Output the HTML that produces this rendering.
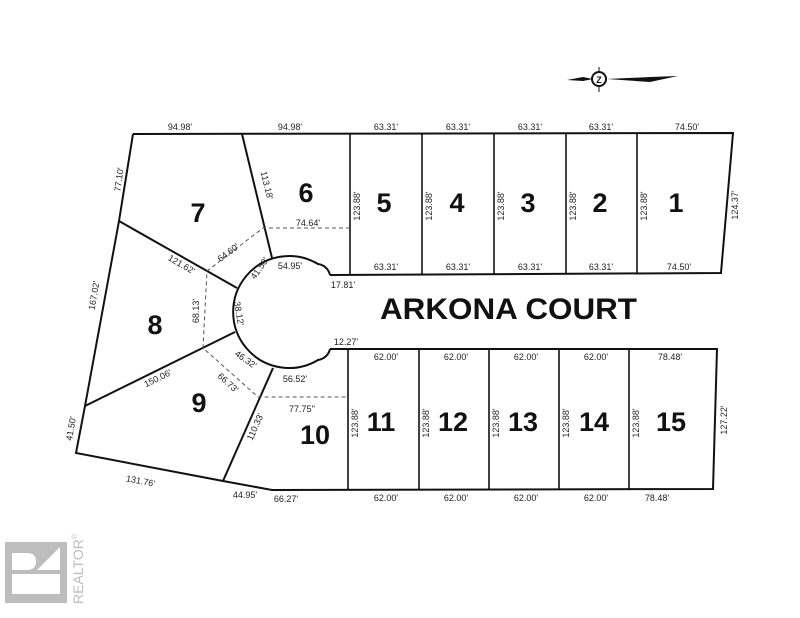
<!DOCTYPE html>
<html><head><style>
html,body{margin:0;padding:0;background:#fff}
svg{display:block}
text{font-family:"Liberation Sans",Arial,sans-serif}
.d{font-size:9px;fill:#222}
.n{font-size:27px;font-weight:bold;fill:#111}
</style></head><body>
<svg width="800" height="618" viewBox="0 0 800 618" xmlns="http://www.w3.org/2000/svg">
<g fill="none" stroke="#111" stroke-width="2">
<path d="M133,134 L733,133 L721,273 L330,275"/>
<path d="M133,134 L119,221 L85,406 L76,453 L223,481 L272,490 L713,489 L717,349 L330,349"/>
<path d="M330,275 A14,14 0 0 0 318,264 A56,56 0 1 0 318,360 A14,14 0 0 0 330,349"/>
<line x1="242" y1="134" x2="272" y2="258"/>
<line x1="119" y1="221" x2="237" y2="288"/>
<line x1="85" y1="406" x2="235" y2="332"/>
<line x1="223" y1="481" x2="273" y2="368"/>
<g stroke-width="1.6">
<line x1="350" y1="134" x2="350" y2="275"/>
<line x1="422" y1="134" x2="422" y2="275"/>
<line x1="494" y1="134" x2="494" y2="274"/>
<line x1="566" y1="133" x2="566" y2="274"/>
<line x1="637" y1="133" x2="637" y2="274"/>
<line x1="348" y1="349" x2="348" y2="490"/>
<line x1="419" y1="349" x2="419" y2="490"/>
<line x1="489" y1="349" x2="489" y2="490"/>
<line x1="559" y1="349" x2="559" y2="490"/>
<line x1="629" y1="349" x2="629" y2="490"/>
</g>
</g>
<g fill="none" stroke="#555" stroke-width="1" stroke-dasharray="4,3">
<path d="M350,228 L263,228 L207,271 L203,348 L258,397 L348,397"/>
</g>
<text class="n" x="198" y="222" text-anchor="middle">7</text>
<text class="n" x="306" y="202" text-anchor="middle">6</text>
<text class="n" x="384" y="212" text-anchor="middle">5</text>
<text class="n" x="457" y="212" text-anchor="middle">4</text>
<text class="n" x="528" y="212" text-anchor="middle">3</text>
<text class="n" x="600" y="212" text-anchor="middle">2</text>
<text class="n" x="676" y="212" text-anchor="middle">1</text>
<text class="n" x="155" y="334" text-anchor="middle">8</text>
<text class="n" x="199" y="412" text-anchor="middle">9</text>
<text class="n" x="315" y="444" text-anchor="middle">10</text>
<text class="n" x="381" y="431" text-anchor="middle">11</text>
<text class="n" x="453" y="431" text-anchor="middle">12</text>
<text class="n" x="523" y="431" text-anchor="middle">13</text>
<text class="n" x="594" y="431" text-anchor="middle">14</text>
<text class="n" x="671" y="431" text-anchor="middle">15</text>
<text x="380" y="319" font-size="30" font-weight="bold" fill="#111" textLength="257" lengthAdjust="spacingAndGlyphs">ARKONA COURT</text>
<g class="d" text-anchor="middle">
<text x="180" y="130">94.98'</text><text x="290" y="130">94.98'</text>
<text x="386" y="130">63.31'</text><text x="458" y="130">63.31'</text><text x="530" y="130">63.31'</text><text x="601" y="130">63.31'</text><text x="687" y="130">74.50'</text>
<text x="386" y="270">63.31'</text><text x="458" y="270">63.31'</text><text x="530" y="270">63.31'</text><text x="601" y="270">63.31'</text><text x="679" y="270">74.50'</text>
<text x="308" y="226">74.64'</text><text x="290" y="269">54.95'</text><text x="343" y="288">17.81'</text><text x="346" y="345">12.27'</text>
<text x="295" y="382">56.52'</text><text x="302" y="412">77.75''</text>
<text x="386" y="360">62.00'</text><text x="456" y="360">62.00'</text><text x="526" y="360">62.00'</text><text x="596" y="360">62.00'</text><text x="670" y="360">78.48'</text>
<text x="386" y="501">62.00'</text><text x="456" y="501">62.00'</text><text x="526" y="501">62.00'</text><text x="596" y="501">62.00'</text><text x="657" y="501">78.48'</text>
<text x="286" y="502">66.27'</text><text x="245" y="498">44.95'</text><text x="140" y="484" transform="rotate(11 140 484)">131.76'</text>
<text x="180" y="267" transform="rotate(30 180 267)">121.62'</text>
<text x="230" y="255" transform="rotate(-37 230 255)">64.60'</text>
<text x="262" y="270" transform="rotate(-55 262 270)">41.50'</text>
<text x="236" y="314" transform="rotate(80 236 314)">38.12'</text>
<text x="199" y="311" transform="rotate(-90 199 311)">68.13'</text>
<text x="244" y="362" transform="rotate(35 244 362)">46.32'</text>
<text x="226" y="385" transform="rotate(42 226 385)">66.73'</text>
<text x="159" y="381" transform="rotate(-26 159 381)">150.06'</text>
<text x="258" y="428" transform="rotate(-66 258 428)">110.33'</text>
<text x="264" y="186" transform="rotate(76 264 186)">113.18'</text>
<text x="122" y="180" transform="rotate(-82 122 180)">77.10'</text>
<text x="97" y="296" transform="rotate(-80 97 296)">167.02'</text>
<text x="74" y="429" transform="rotate(-80 74 429)">41.50'</text>
<text x="360" y="206" transform="rotate(-90 360 206)">123.88'</text>
<text x="432" y="206" transform="rotate(-90 432 206)">123.88'</text>
<text x="504" y="206" transform="rotate(-90 504 206)">123.88'</text>
<text x="576" y="206" transform="rotate(-90 576 206)">123.88'</text>
<text x="647" y="206" transform="rotate(-90 647 206)">123.88'</text>
<text x="738" y="205" transform="rotate(-90 738 205)">124.37'</text>
<text x="358" y="423" transform="rotate(-90 358 423)">123.88'</text>
<text x="429" y="423" transform="rotate(-90 429 423)">123.88'</text>
<text x="499" y="423" transform="rotate(-90 499 423)">123.88'</text>
<text x="569" y="423" transform="rotate(-90 569 423)">123.88'</text>
<text x="639" y="423" transform="rotate(-90 639 423)">123.88'</text>
<text x="727" y="420" transform="rotate(-90 727 420)">127.22'</text>
</g>
<path d="M567,80 L583,77 L593,79 L583,81 Z" fill="#111"/>
<path d="M607,79 L650,77 L678,76 L650,82 Z" fill="#111"/>
<circle cx="599" cy="79" r="7" fill="#fff" stroke="#111" stroke-width="2"/>
<text x="599" y="83" font-size="9" font-weight="bold" text-anchor="middle" fill="#111">Z</text>
<line x1="599" y1="67" x2="599" y2="71" stroke="#111"/><line x1="599" y1="87" x2="599" y2="92" stroke="#111"/>
<rect x="5" y="542" width="62" height="61" fill="#bdbdbd"/>
<path d="M12,553 L27,553 Q36,553 36,561.5 Q36,570 27,570 L12,570 Z" fill="#fff"/>
<rect x="12" y="574" width="48" height="20" fill="#fff"/>
<path d="M60,547 L60,570 L37,570 Z" fill="#fff"/>
<text x="0" y="0" font-size="14" fill="#bdbdbd" transform="translate(83,604) rotate(-90)">REALTOR<tspan font-size="7" dy="-6">®</tspan></text>
</svg>
</body></html>
